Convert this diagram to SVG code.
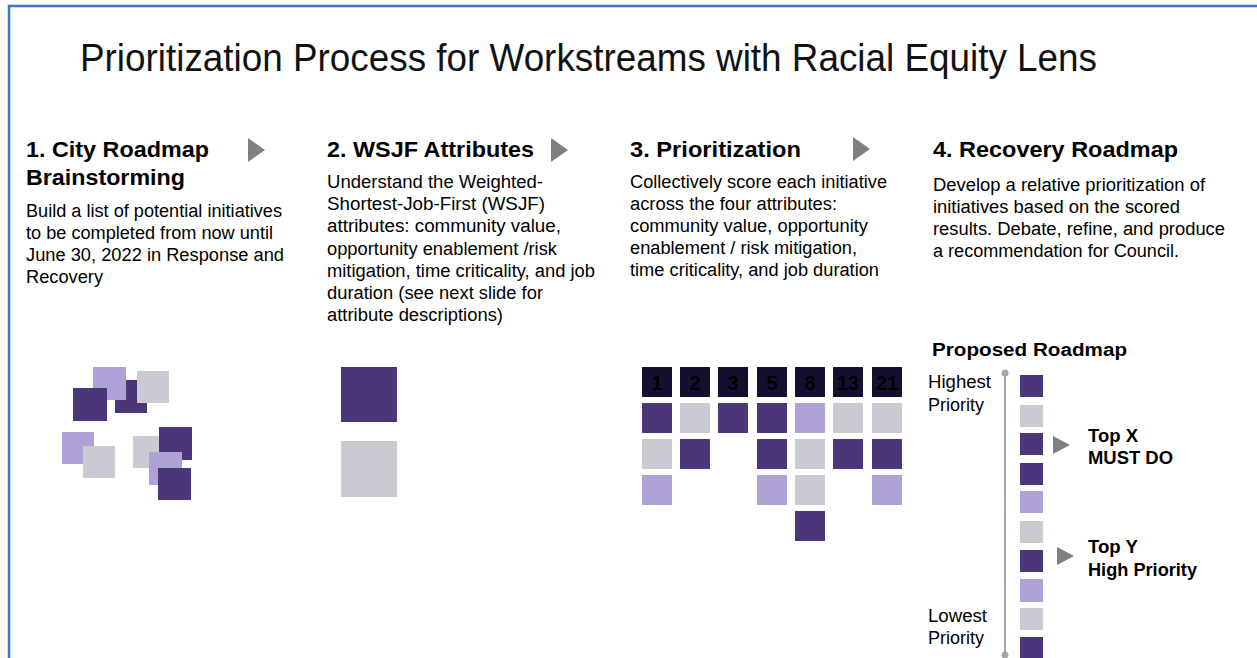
<svg xmlns="http://www.w3.org/2000/svg" width="1257" height="658" viewBox="0 0 1257 658">
<defs>
<style>
text{font-family:"Liberation Sans",Arial,sans-serif;fill:#000}
.title{font-family:"Liberation Sans",Arial,sans-serif;font-size:38px;fill:#111}
.h{font-size:22px;font-weight:bold}
.b{font-size:18px}
.rb{font-size:18px;font-weight:bold}
.num{font-size:20px;font-weight:bold;fill:#000;text-anchor:middle}
.d{fill:#4A3679}
.l{fill:#ADA1D6}
.g{fill:#C9CAD2}
.n{fill:#15102F}
.tri{fill:#808080}
</style>
</defs>
<rect x="0" y="0" width="1257" height="658" fill="#fff"/>
<path d="M9 658 V6 H1257" fill="none" stroke="#4472C4" stroke-width="2.5"/>
<g id="title">
<text class="title" x="80" y="71" textLength="1017" lengthAdjust="spacingAndGlyphs">Prioritization Process for Workstreams with Racial Equity Lens</text>
</g>
<g id="step1">
<text class="h" x="26" y="157" textLength="183" lengthAdjust="spacingAndGlyphs">1. City Roadmap</text>
<text class="h" x="26" y="185" textLength="159" lengthAdjust="spacingAndGlyphs">Brainstorming</text>
<text class="b" x="26" y="217" textLength="256" lengthAdjust="spacingAndGlyphs">Build a list of potential initiatives</text>
<text class="b" x="26" y="239" textLength="247" lengthAdjust="spacingAndGlyphs">to be completed from now until</text>
<text class="b" x="26" y="261" textLength="258" lengthAdjust="spacingAndGlyphs">June 30, 2022 in Response and</text>
<text class="b" x="26" y="283" textLength="77" lengthAdjust="spacingAndGlyphs">Recovery</text>
<rect class="d" x="115" y="380" width="32" height="33"/>
<rect class="l" x="93" y="367" width="33" height="33"/>
<rect class="g" x="137" y="371" width="32" height="32"/>
<rect class="d" x="73" y="388" width="34" height="33"/>
<rect class="l" x="62" y="432" width="32" height="32"/>
<rect class="g" x="83" y="446" width="32" height="32"/>
<rect class="g" x="133" y="436" width="32" height="32"/>
<rect class="d" x="159" y="427" width="33" height="33"/>
<rect class="l" x="149" y="452" width="33" height="33"/>
<rect class="d" x="158" y="468" width="33" height="32"/>
</g>
<g id="step2">
<text class="h" x="327" y="157" textLength="207" lengthAdjust="spacingAndGlyphs">2. WSJF Attributes</text>
<text class="b" x="327" y="188" textLength="216" lengthAdjust="spacingAndGlyphs">Understand the Weighted-</text>
<text class="b" x="327" y="210.2" textLength="218" lengthAdjust="spacingAndGlyphs">Shortest-Job-First (WSJF)</text>
<text class="b" x="327" y="232.4" textLength="234" lengthAdjust="spacingAndGlyphs">attributes: community value,</text>
<text class="b" x="327" y="254.6" textLength="230" lengthAdjust="spacingAndGlyphs">opportunity enablement /risk</text>
<text class="b" x="327" y="276.8" textLength="268" lengthAdjust="spacingAndGlyphs">mitigation, time criticality, and job</text>
<text class="b" x="327" y="299" textLength="216" lengthAdjust="spacingAndGlyphs">duration (see next slide for</text>
<text class="b" x="327" y="321.2" textLength="176" lengthAdjust="spacingAndGlyphs">attribute descriptions)</text>
<rect class="d" x="341" y="367" width="56" height="55"/>
<rect class="g" x="341" y="441" width="56" height="56"/>
</g>
<g id="step3">
<text class="h" x="630" y="157" textLength="171" lengthAdjust="spacingAndGlyphs">3. Prioritization</text>
<text class="b" x="630" y="188" textLength="257" lengthAdjust="spacingAndGlyphs">Collectively score each initiative</text>
<text class="b" x="630" y="210.1" textLength="207" lengthAdjust="spacingAndGlyphs">across the four attributes:</text>
<text class="b" x="630" y="232.2" textLength="238" lengthAdjust="spacingAndGlyphs">community value, opportunity</text>
<text class="b" x="630" y="254.3" textLength="227" lengthAdjust="spacingAndGlyphs">enablement / risk mitigation,</text>
<text class="b" x="630" y="276.4" textLength="249" lengthAdjust="spacingAndGlyphs">time criticality, and job duration</text>
<g id="grid-header">
<rect class="n" x="642" y="367" width="30" height="30"/>
<rect class="n" x="680" y="367" width="30" height="30"/>
<rect class="n" x="718" y="367" width="30" height="30"/>
<rect class="n" x="757" y="367" width="30" height="30"/>
<rect class="n" x="795" y="367" width="30" height="30"/>
<rect class="n" x="833" y="367" width="30" height="30"/>
<rect class="n" x="872" y="367" width="30" height="30"/>
<text class="num" x="657" y="390">1</text>
<text class="num" x="695" y="390">2</text>
<text class="num" x="733" y="390">3</text>
<text class="num" x="772" y="390">5</text>
<text class="num" x="810" y="390">8</text>
<text class="num" x="848" y="390">13</text>
<text class="num" x="887" y="390">21</text>
</g>
<rect class="d" x="642" y="403" width="30" height="30"/>
<rect class="g" x="642" y="439" width="30" height="30"/>
<rect class="l" x="642" y="475" width="30" height="30"/>
<rect class="g" x="680" y="403" width="30" height="30"/>
<rect class="d" x="680" y="439" width="30" height="30"/>
<rect class="d" x="718" y="403" width="30" height="30"/>
<rect class="d" x="757" y="403" width="30" height="30"/>
<rect class="d" x="757" y="439" width="30" height="30"/>
<rect class="l" x="757" y="475" width="30" height="30"/>
<rect class="l" x="795" y="403" width="30" height="30"/>
<rect class="g" x="795" y="439" width="30" height="30"/>
<rect class="g" x="795" y="475" width="30" height="30"/>
<rect class="d" x="795" y="511" width="30" height="30"/>
<rect class="g" x="833" y="403" width="30" height="30"/>
<rect class="d" x="833" y="439" width="30" height="30"/>
<rect class="g" x="872" y="403" width="30" height="30"/>
<rect class="d" x="872" y="439" width="30" height="30"/>
<rect class="l" x="872" y="475" width="30" height="30"/>
</g>
<g id="step4">
<text class="h" x="933" y="157" textLength="245" lengthAdjust="spacingAndGlyphs">4. Recovery Roadmap</text>
<text class="b" x="933" y="191" textLength="272" lengthAdjust="spacingAndGlyphs">Develop a relative prioritization of</text>
<text class="b" x="933" y="213" textLength="247" lengthAdjust="spacingAndGlyphs">initiatives based on the scored</text>
<text class="b" x="933" y="235" textLength="292" lengthAdjust="spacingAndGlyphs">results. Debate, refine, and produce</text>
<text class="b" x="933" y="257" textLength="246" lengthAdjust="spacingAndGlyphs">a recommendation for Council.</text>
</g>
<g id="roadmap">
<text class="rb" x="932" y="356" textLength="195" lengthAdjust="spacingAndGlyphs">Proposed Roadmap</text>
<text class="b" x="928" y="388" textLength="63" lengthAdjust="spacingAndGlyphs">Highest</text>
<text class="b" x="928" y="411" textLength="56" lengthAdjust="spacingAndGlyphs">Priority</text>
<text class="b" x="928" y="622" textLength="59" lengthAdjust="spacingAndGlyphs">Lowest</text>
<text class="b" x="928" y="644" textLength="56" lengthAdjust="spacingAndGlyphs">Priority</text>
<line x1="1005" y1="373" x2="1005" y2="655" stroke="#A6A6A6" stroke-width="2"/>
<circle cx="1005" cy="373" r="3.5" fill="#A6A6A6"/>
<circle cx="1005" cy="655" r="3.5" fill="#A6A6A6"/>
<rect class="d" x="1020" y="375" width="23" height="22"/>
<rect class="g" x="1020" y="405" width="23" height="22"/>
<rect class="d" x="1020" y="433" width="23" height="22"/>
<rect class="d" x="1020" y="463" width="23" height="22"/>
<rect class="l" x="1020" y="491" width="23" height="22"/>
<rect class="g" x="1020" y="521" width="23" height="22"/>
<rect class="d" x="1020" y="550" width="23" height="22"/>
<rect class="l" x="1020" y="579" width="23" height="23"/>
<rect class="g" x="1020" y="608" width="23" height="22"/>
<rect class="d" x="1020" y="637" width="23" height="21"/>
<text class="rb" x="1088" y="442" textLength="50" lengthAdjust="spacingAndGlyphs">Top X</text>
<text class="rb" x="1088" y="464" textLength="85" lengthAdjust="spacingAndGlyphs">MUST DO</text>
<text class="rb" x="1088" y="553" textLength="50" lengthAdjust="spacingAndGlyphs">Top Y</text>
<text class="rb" x="1088" y="576" textLength="109" lengthAdjust="spacingAndGlyphs">High Priority</text>
</g>
<g id="connectors">
<polygon class="tri" points="248,138 265,150 248,162"/>
<polygon class="tri" points="551,138 568,150 551,162"/>
<polygon class="tri" points="853,137 870,149 853,161"/>
<polygon class="tri" points="1053,436 1070,445 1053,454"/>
<polygon class="tri" points="1057,547 1074,556 1057,565"/>
</g>
</svg>
